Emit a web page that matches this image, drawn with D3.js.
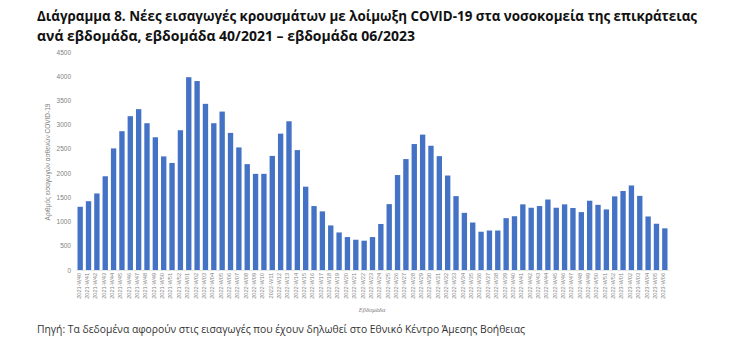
<!DOCTYPE html>
<html>
<head>
<meta charset="utf-8">
<script src="https://cdn.jsdelivr.net/npm/d3@7"></script>
<style>
body { margin: 0; background: #fff; }
svg { display: block; }
</style>
</head>
<body>
<svg id="chart" width="729" height="352"></svg>
<script>
// weekly admissions, 2021-W40 .. 2023-W06
var weeks2021 = ["W40","W41","W42","W43","W44","W45","W46","W47","W48","W49","W50","W51","W52"]
var vals2021 = [1305,1420,1580,1935,2510,2865,3175,3320,3030,2740,2345,2210,2885]
var weeks2022 = d3.range(1, 53).map(function(w){ return "W" + (w < 10 ? "0" + w : w); })
var vals2022 = [3980,3900,3430,3030,3270,2830,2530,2185,1985,1985,2355,2815,3070,2475,1720,1320,1210,920,775,680,625,605,680,950,
  1360,1960,2290,2600,2795,2565,2350,1950,1525,1180,980,790,815,815,1070,1110,1355,1285,1320,1455,1285,1355,1280,1195,1430,1345,1250,1520]
var weeks2023 = ["W01","W02","W03","W04","W05","W06"]
var vals2023 = [1630,1745,1530,1105,955,860]
var yTicks = [0,500,1000,1500,2000,2500,3000,3500,4000,4500]

var labels = weeks2021.map(function(w){ return "2021-" + w; })
  .concat(weeks2022.map(function(w){ return "2022-" + w; }))
  .concat(weeks2023.map(function(w){ return "2023-" + w; }))
var values = vals2021.concat(vals2022, vals2023)

var svg = d3.select("#chart")
var x = d3.scaleBand().domain(labels).range([76, 669]).paddingInner(0.36).paddingOuter(0.18)
var y = d3.scaleLinear().domain([0, 4500]).range([270, 52])

// title
var title = svg.append("text").attr("x", 37).attr("y", 21)
  .style("font-family", "'Open Sans', sans-serif").style("font-weight", "bold")
  .style("font-size", "13.5px").attr("fill", "#111")
title.append("tspan").attr("x", 37).attr("y", 21).attr("textLength", 660).attr("lengthAdjust", "spacingAndGlyphs")
  .text("Διάγραμμα 8. Νέες εισαγωγές κρουσμάτων με λοίμωξη COVID-19 στα νοσοκομεία της επικράτειας")
title.append("tspan").attr("x", 37).attr("y", 41).attr("textLength", 378).attr("lengthAdjust", "spacingAndGlyphs")
  .text("ανά εβδομάδα, εβδομάδα 40/2021 – εβδομάδα 06/2023")

// bars
svg.append("g").selectAll("rect").data(values).enter().append("rect")
  .attr("x", function(d, i){ return x(labels[i]); })
  .attr("y", function(d){ return y(d); })
  .attr("width", x.bandwidth())
  .attr("height", function(d){ return y(0) - y(d); })
  .attr("fill", "#4472C4")

// y axis
var yAxis = svg.append("g").attr("transform", "translate(71,0)")
  .call(d3.axisLeft(y).tickValues(yTicks).tickFormat(d3.format("d")).tickSize(0).tickPadding(0))
yAxis.select(".domain").remove()
yAxis.selectAll("text").style("font-family", "'Liberation Sans', sans-serif").style("font-size", "6.5px").attr("fill", "#7f7f7f")

// x axis
var xAxis = svg.append("g").attr("transform", "translate(0,270)")
  .call(d3.axisBottom(x).tickSize(0).tickPadding(3))
xAxis.select(".domain").attr("stroke", "#e6e6e6")
xAxis.selectAll("text")
  .style("font-family", "'Liberation Sans', sans-serif").style("font-size", "5.6px").attr("fill", "#7f7f7f")
  .style("text-anchor", "end").attr("dx", "-3px").attr("dy", "-2.6px").attr("transform", "rotate(-90)")

// axis titles
svg.append("text").attr("transform", "translate(50,162) rotate(-90)")
  .attr("text-anchor", "middle").style("font-family", "'Liberation Sans', sans-serif")
  .style("font-size", "6.5px").attr("fill", "#7f7f7f")
  .text("Αριθμός εισαγωγών ασθενών COVID-19")
svg.append("text").attr("x", 372).attr("y", 312)
  .attr("text-anchor", "middle").style("font-family", "'Liberation Serif', serif").style("font-style", "italic")
  .style("font-size", "6.5px").attr("fill", "#7f7f7f")
  .text("Εβδομάδα")

// source
svg.append("text").attr("x", 37).attr("y", 333)
  .style("font-family", "'Open Sans', sans-serif").style("font-size", "10.5px").attr("fill", "#333")
  .attr("textLength", 488).attr("lengthAdjust", "spacingAndGlyphs")
  .text("Πηγή: Τα δεδομένα αφορούν  στις εισαγωγές  που έχουν δηλωθεί στο Εθνικό Κέντρο Άμεσης Βοήθειας")
</script>
</body>
</html>
